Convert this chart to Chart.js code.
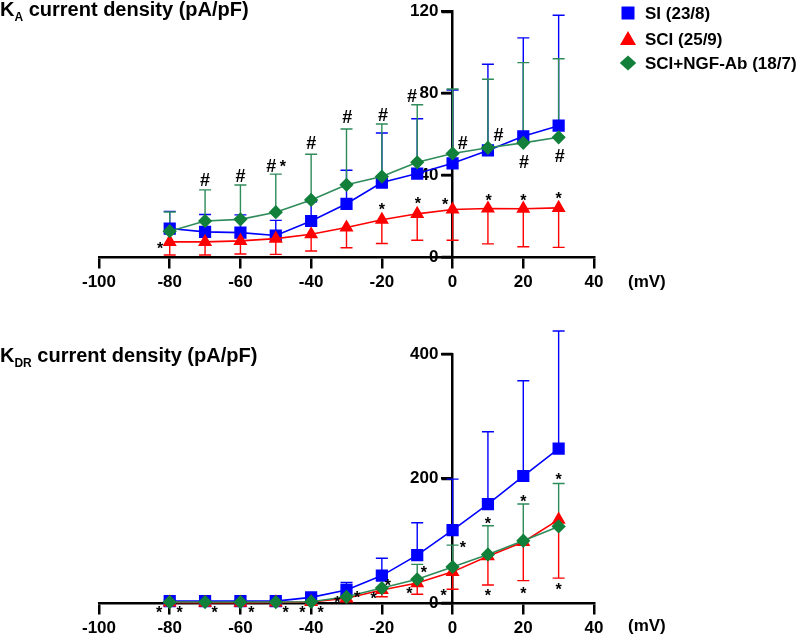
<!DOCTYPE html>
<html>
<head>
<meta charset="utf-8">
<script src="https://cdn.jsdelivr.net/npm/chart.js@4.4.1/dist/chart.umd.min.js"></script>
<style>
  html, body { margin: 0; padding: 0; background: #fff; }
  .panel { position: absolute; left: 0; width: 800px; }
  #panel-a { top: 0; height: 305px; }
  #panel-dr { top: 305px; height: 330px; }
</style>
</head>
<body>
<div class="panel" id="panel-a"><canvas id="chart-a" width="800" height="305"></canvas></div>
<div class="panel" id="panel-dr"><canvas id="chart-dr" width="800" height="330"></canvas></div>
<script>
/* I-V curves, K_A and K_DR current density */

const voltages = [-80, -70, -60, -50, -40, -30, -20, -10, 0, 10, 20, 30];
const seriesNames = ["SI (23/8)", "SCI (25/9)", "SCI+NGF-Ab (18/7)"];
const xTicks = [-100, 40, 20]; // min, max, step

// K_A panel (values and error bar ends, pA/pF)
const kaSI = [13.9, 12.3, 11.9, 10.5, 17.6, 26.0, 36.4, 40.8, 45.8, 52.1, 59.0, 64.2];
const kaSIUpper = [22.3, 20.8, 20.6, 17.9, 27.0, 42.4, 60.6, 67.6, 81.6, 94.2, 107.1, 118.2];
const kaSCI = [7.4, 7.4, 7.9, 9.0, 11.1, 14.4, 18.2, 21.1, 23.2, 23.7, 23.6, 24.0];
const kaSCILower = [1.0, 1.0, 1.5, 1.3, 2.9, 4.5, 6.6, 8.2, 8.2, 6.4, 5.0, 4.7];
const kaNGF = [12.6, 17.6, 18.4, 21.9, 27.9, 35.3, 39.3, 46.3, 50.6, 53.4, 55.8, 58.5];
const kaNGFUpper = [22.0, 32.8, 35.2, 40.5, 50.2, 62.6, 65.0, 74.4, 82.1, 86.9, 95.0, 96.9];
const kaYTicks = [0, 120, 40];
const kaMarks = [
  ["#", -70, 37.7], ["#", -60, 40.0], ["#", -51.3, 44.5], ["*", -48.0, 45.5],
  ["#", -40, 55.8], ["#", -29.8, 68.7], ["#", -19.7, 69.8], ["#", -11.5, 78.7],
  ["#", 2.9, 55.8], ["#", 13.0, 60.1], ["#", 20.2, 46.6], ["#", 30.3, 49.8],
  ["*", -82.7, 5.8], ["*", -20, 24.7], ["*", -9.8, 27.6], ["*", -2.1, 27.1],
  ["*", 10.2, 29.2], ["*", 20, 29.2], ["*", 30, 30.3],
];

// K_DR panel
const kdrSI = [3, 3, 3, 3, 9, 21, 44, 77, 117, 159, 204, 248];
const kdrSIUpper = [5, 5, 5, 5, 13, 33, 72, 129, 199, 275, 357, 437];
const kdrSCI = [1, 0.5, 0.5, 1, 1.5, 7.5, 21, 32, 50, 75, 98, 134];
const kdrSCILower = [0, 0, 0, 0, 0.5, 3, 10, 14, 22, 29, 36, 40];
const kdrNGF = [1.5, 1.5, 1.5, 1.5, 2, 10, 24, 38, 58, 78, 100, 123];
const kdrNGFUpper = [2.5, 2.5, 2.5, 2.5, 3, 13, 40, 62, 93, 124, 159, 192];
const kdrYTicks = [0, 400, 200];
const kdrMarks = [
  ["*", -83, -11], ["*", -77.2, -11], ["*", -67.3, -11], ["*", -56.9, -11],
  ["*", -47.2, -11], ["*", -42.5, -11], ["*", -37.3, -11], ["*", -32.6, 6.4],
  ["*", -27.0, 12.9], ["*", -22.3, 11.8], ["*", -18.3, 32.6], ["*", -12.2, 19.8],
  ["*", -8.1, 54.1], ["*", -2.5, 17.2], ["*", 2.9, 93.2], ["*", 10, 133],
  ["*", 10, 16.5], ["*", 20, 168], ["*", 20, 19.3], ["*", 30, 203], ["*", 30, 26.2],
];

const FONT = '"Liberation Sans", Arial, Helvetica, sans-serif';
const BLUE = "#0000ff";
const RED = "#ff0000";
const GREEN_LINE = "#2e8b5a";
const GREEN_MARK = "#12803a";

function points(values) {
  return voltages.map((v, i) => ({ x: v, y: values[i] }));
}

function drawShape(ctx, kind, x, y, r, color) {
  ctx.fillStyle = color;
  ctx.beginPath();
  if (kind === "rect") {
    ctx.rect(x - r, y - r, 2 * r, 2 * r);
  } else if (kind === "triangle") {
    ctx.moveTo(x, y - r);
    ctx.lineTo(x + r, y + r * 0.75);
    ctx.lineTo(x - r, y + r * 0.75);
    ctx.closePath();
  } else {
    ctx.moveTo(x, y - r);
    ctx.lineTo(x + r * 1.1, y);
    ctx.lineTo(x, y + r);
    ctx.lineTo(x - r * 1.1, y);
    ctx.closePath();
  }
  ctx.fill();
}

const extrasPlugin = {
  id: "extras",
  beforeDatasetsDraw(chart, args, opts) {
    const { ctx } = chart;
    const xs = chart.scales.x;
    const ys = chart.scales.y;
    ctx.save();

    // y tick marks (not drawn by the value-positioned axis)
    const axisX = xs.getPixelForValue(0);
    ctx.strokeStyle = "#000";
    ctx.lineWidth = 2.5;
    ys.ticks.forEach((t) => {
      const py = Math.round(ys.getPixelForValue(t.value));
      ctx.beginPath();
      ctx.moveTo(axisX, py);
      ctx.lineTo(axisX - 11, py);
      ctx.stroke();
    });

    ctx.lineWidth = 1.4;
    opts.errors.forEach((err) => {
      ctx.strokeStyle = err.color;
      voltages.forEach((v, i) => {
        const px = xs.getPixelForValue(v);
        const p0 = ys.getPixelForValue(err.mean[i]);
        const p1 = ys.getPixelForValue(err.end[i]);
        ctx.beginPath();
        ctx.moveTo(px, p0);
        ctx.lineTo(px, p1);
        ctx.moveTo(px - 6, p1);
        ctx.lineTo(px + 6, p1);
        ctx.stroke();
      });
    });
    ctx.restore();
  },
  afterDraw(chart, args, opts) {
    const { ctx } = chart;
    const xs = chart.scales.x;
    const ys = chart.scales.y;
    ctx.save();
    ctx.fillStyle = "#000";

    // title with subscript
    const [main, sub, rest] = opts.title;
    ctx.textAlign = "left";
    ctx.textBaseline = "alphabetic";
    ctx.font = "bold 20px " + FONT;
    ctx.fillText(main, 0, opts.titleY);
    let tx = ctx.measureText(main).width;
    ctx.font = "bold 12px " + FONT;
    ctx.fillText(sub, tx, opts.titleY + 5);
    tx += ctx.measureText(sub).width;
    ctx.font = "bold 20px " + FONT;
    ctx.fillText(rest, tx, opts.titleY);

    // unit label
    ctx.font = "bold 17px " + FONT;
    ctx.textBaseline = "middle";
    ctx.fillText("(mV)", 628, ys.getPixelForValue(0) + opts.unitOffset);

    // significance marks
    ctx.textAlign = "center";
    ctx.textBaseline = "alphabetic";
    opts.marks.forEach(([t, mv, val]) => {
      ctx.font = (t === "#" ? "bold 18px " : "bold 16px ") + FONT;
      const m = ctx.measureText(t);
      const off = (m.actualBoundingBoxAscent - m.actualBoundingBoxDescent) / 2;
      ctx.fillText(t, xs.getPixelForValue(mv), ys.getPixelForValue(val) + off);
    });

    // legend
    if (opts.legend) {
      const rows = [13, 39, 63];
      const kinds = ["rect", "triangle", "diamond"];
      const cols = [BLUE, RED, GREEN_MARK];
      const sizes = [6.5, 8, 7.5];
      ctx.textAlign = "left";
      ctx.textBaseline = "middle";
      ctx.font = "bold 17px " + FONT;
      seriesNames.forEach((name, i) => {
        drawShape(ctx, kinds[i], 628, rows[i], sizes[i], cols[i]);
        ctx.fillStyle = "#000";
        ctx.fillText(name, 645, rows[i] + 1);
      });
    }
    ctx.restore();
  },
};

function makeChart(id, series, yTicks, extras, padding) {
  const [siVals, sciVals, ngfVals] = series;
  return new Chart(document.getElementById(id), {
    type: "line",
    data: {
      datasets: [
        {
          label: seriesNames[2], data: points(ngfVals), order: 0,
          borderColor: GREEN_LINE, backgroundColor: GREEN_MARK,
          pointBackgroundColor: GREEN_MARK, pointBorderColor: GREEN_MARK,
          pointStyle: "rectRot", pointRadius: 6, borderWidth: 1.6, clip: false,
        },
        {
          label: seriesNames[1], data: points(sciVals), order: 1,
          borderColor: RED, backgroundColor: RED,
          pointBackgroundColor: RED, pointBorderColor: RED,
          pointStyle: "triangle", pointRadius: 6.5, borderWidth: 1.6, clip: false,
        },
        {
          label: seriesNames[0], data: points(siVals), order: 2,
          borderColor: BLUE, backgroundColor: BLUE,
          pointBackgroundColor: BLUE, pointBorderColor: BLUE,
          pointStyle: "rect", pointRadius: 7.5, borderWidth: 1.6, clip: false,
        },
      ],
    },
    options: {
      responsive: false,
      animation: false,
      layout: { padding },
      scales: {
        x: {
          type: "linear",
          position: { y: 0 },
          min: xTicks[0],
          max: xTicks[1],
          ticks: {
            stepSize: xTicks[2], color: "#000", padding: 7, maxRotation: 0,
            font: { family: FONT, size: 17, weight: "bold", lineHeight: 1 },
          },
          grid: { drawOnChartArea: false, drawTicks: true, tickLength: 10, color: "#000", lineWidth: 2.5 },
          border: { color: "#000", width: 2.5 },
        },
        y: {
          type: "linear",
          position: { x: 0 },
          min: yTicks[0],
          max: yTicks[1],
          ticks: {
            stepSize: yTicks[2], color: "#000",
            // labels of a value-positioned axis sit on the axis line; push them past the tick
            callback: (v) => v + "   ",
            font: { family: FONT, size: 17, weight: "bold", lineHeight: 1 },
          },
          grid: { drawOnChartArea: false, drawTicks: true, tickLength: 10, color: "#000", lineWidth: 2.5 },
          border: { color: "#000", width: 2.5 },
        },
      },
      plugins: {
        legend: { display: false },
        tooltip: { enabled: false },
        extras,
      },
    },
    plugins: [extrasPlugin],
  });
}

makeChart("chart-a", [kaSI, kaSCI, kaNGF], kaYTicks, {
  title: ["K", "A", " current density (pA/pF)"],
  titleY: 16,
  unitOffset: 25,
  legend: true,
  marks: kaMarks,
  errors: [
    { color: BLUE, mean: kaSI, end: kaSIUpper },
    { color: RED, mean: kaSCI, end: kaSCILower },
    { color: GREEN_LINE, mean: kaNGF, end: kaNGFUpper },
  ],
}, { left: 99, right: 206, top: 9, bottom: 48 });

makeChart("chart-dr", [kdrSI, kdrSCI, kdrNGF], kdrYTicks, {
  title: ["K", "DR", " current density (pA/pF)"],
  titleY: 57,
  unitOffset: 23,
  legend: false,
  marks: kdrMarks,
  errors: [
    { color: BLUE, mean: kdrSI, end: kdrSIUpper },
    { color: RED, mean: kdrSCI, end: kdrSCILower },
    { color: GREEN_LINE, mean: kdrNGF, end: kdrNGFUpper },
  ],
}, { left: 99, right: 206, top: 49, bottom: 32 });
</script>
</body>
</html>
